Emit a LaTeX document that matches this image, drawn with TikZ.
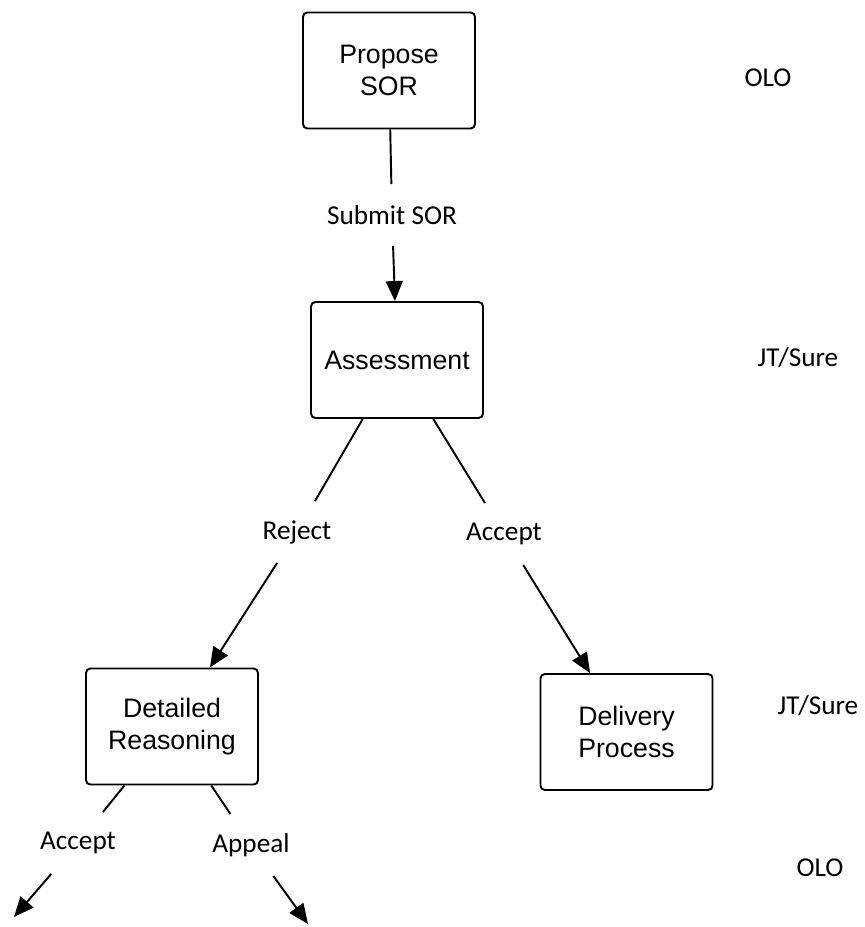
\documentclass[tikz,border=0pt]{standalone}
\usepackage{fontspec}
\setmainfont{Carlito}
\newfontfamily\boxfont{Liberation Sans}
\usetikzlibrary{arrows.meta}

\begin{document}
\begin{tikzpicture}[>={Triangle[length=0.4cm,width=0.34cm]},line width=1.1pt,
	stage/.style={draw,rounded corners=2.5pt,minimum width=3.44cm,minimum height=2.32cm,
		align=center,font=\boxfont\fontsize{15.2}{18}\selectfont},
	choice/.style={minimum height=1.2cm,inner sep=2pt,font=\fontsize{15.5}{18}\selectfont},
	role/.style={font=\fontsize{15.5}{18}\selectfont}]

\useasboundingbox (0,0) rectangle (17.28,-18.54);

% stages
\node[stage] (propose) at (7.78,-1.41) {Propose\\SOR};
\node[stage] (assess) at (7.94,-7.20) {Assessment};
\node[stage] (detailed) at (3.44,-14.53) {Detailed\\Reasoning};
\node[stage] (delivery) at (12.53,-14.64) {Delivery\\Process};

% decisions
\node[choice] (submit) at (7.84,-4.30) {Submit SOR};
\node[choice] (reject) at (5.94,-10.64) {Reject};
\node[choice] (accept) at (10.08,-10.68) {Accept};
\node[choice] (acceptR) at (1.56,-16.86) {Accept};
\node[choice] (appeal) at (5.02,-16.90) {Appeal};

% who acts
\node[role] (oloA) at (15.36,-1.56) {OLO};
\node[role] (jtA) at (15.96,-7.16) {JT/Sure};
\node[role] (jtB) at (16.36,-14.12) {JT/Sure};
\node[role] (oloB) at (16.40,-17.36) {OLO};

\coordinate (acceptEnd) at (0.28,-18.34);
\coordinate (appealEnd) at (6.16,-18.48);

\draw (propose) -- (submit);
\draw[->] (submit) -- (assess);
\draw (assess) -- (reject);
\draw[->] (reject) -- (detailed);
\draw (assess) -- (accept);
\draw[->] (accept) -- (delivery);
\draw (detailed) -- (acceptR);
\draw[->] (acceptR) -- (acceptEnd);
\draw (detailed) -- (appeal);
\draw[->] (appeal) -- (appealEnd);

\end{tikzpicture}
\end{document}
